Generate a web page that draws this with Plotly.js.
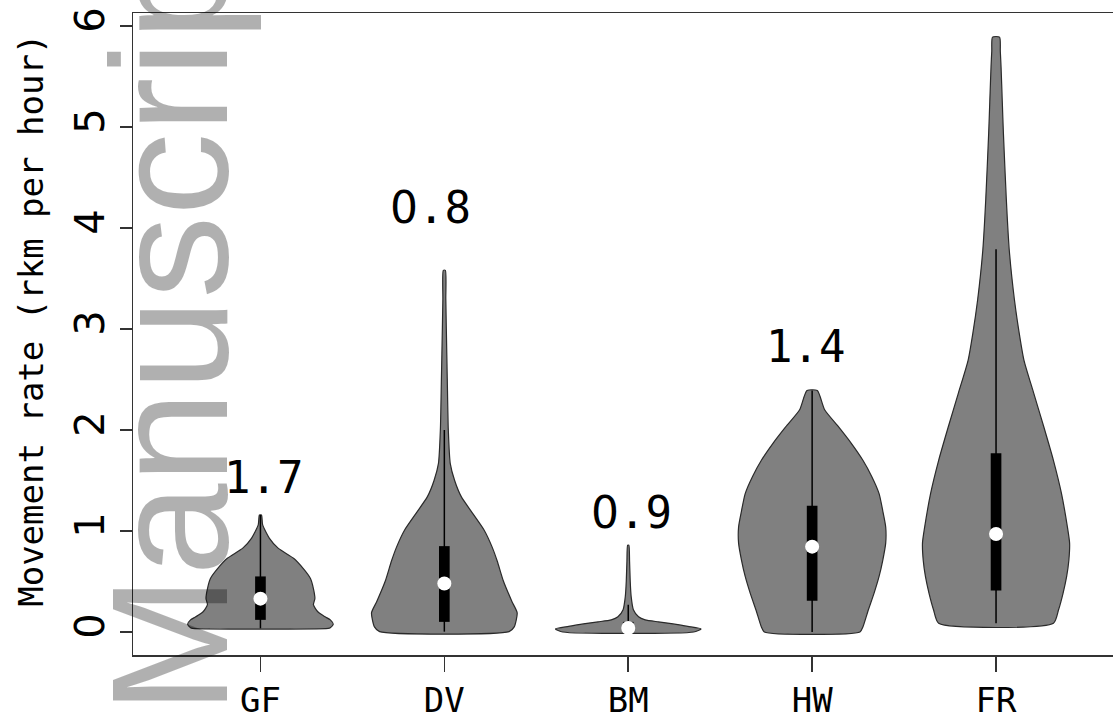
<!DOCTYPE html>
<html>
<head>
<meta charset="utf-8">
<script src="https://cdn.plot.ly/plotly-3.0.1.min.js"></script>
<style>html,body{margin:0;padding:0;background:#fff;}#chart{width:1113px;height:721px;}</style>
</head>
<body>
<div id="chart"></div>
<script>
// ---- data ----
const categories = ["GF", "DV", "BM", "HW", "FR"];

// density profiles: rate values (rkm per hour) and relative density (max = 1)
const gfRate = [0.036, 0.043, 0.076, 0.12, 0.15, 0.20, 0.27, 0.33, 0.43, 0.53, 0.63, 0.73, 0.83, 0.93, 1.06, 1.158];
const gfDens = [0.92, 0.95, 0.99, 0.95, 0.88, 0.78, 0.72, 0.74, 0.72, 0.68, 0.58, 0.45, 0.24, 0.12, 0.03, 0.014];

const dvRate = [0.003, 0.05, 0.19, 0.30, 0.51, 0.70, 0.84, 1.01, 1.18, 1.34, 1.50, 1.67, 2.0, 2.5, 3.0, 3.3, 3.58];
const dvDens = [0.88, 0.95, 0.99, 0.92, 0.80, 0.72, 0.65, 0.54, 0.38, 0.23, 0.14, 0.08, 0.054, 0.04, 0.027, 0.02, 0.014];

const bmRate = [0.0, 0.03, 0.055, 0.08, 0.10, 0.12, 0.15, 0.22, 0.35, 0.5, 0.7, 0.86];
const bmDens = [0.89, 0.99, 0.81, 0.61, 0.41, 0.23, 0.14, 0.07, 0.04, 0.027, 0.018, 0.008];

const hwRate = [0.0, 0.05, 0.21, 0.38, 0.55, 0.71, 0.88, 1.04, 1.20, 1.37, 1.54, 1.70, 1.87, 2.03, 2.20, 2.39];
const hwDens = [0.65, 0.69, 0.76, 0.84, 0.91, 0.96, 1.0, 1.0, 0.96, 0.91, 0.81, 0.69, 0.53, 0.36, 0.17, 0.07];

const frRate = [0.086, 0.22, 0.38, 0.55, 0.71, 0.88, 1.04, 1.37, 1.70, 2.03, 2.37, 2.69, 2.96, 3.29, 3.78, 4.28, 4.94, 5.25, 5.60, 5.75, 5.89];
const frDens = [0.78, 0.85, 0.91, 0.96, 0.99, 1.0, 0.97, 0.89, 0.78, 0.65, 0.51, 0.38, 0.315, 0.25, 0.18, 0.14, 0.10, 0.085, 0.068, 0.058, 0.048];

// box-plot summaries
const q1 = [0.12, 0.10, 0.01, 0.31, 0.41];
const q3 = [0.55, 0.85, 0.10, 1.25, 1.77];
const medians = [0.33, 0.48, 0.04, 0.845, 0.97];
const whiskerLo = [0.036, 0.003, 0.0, 0.0, 0.086];
const whiskerHi = [1.158, 2.0, 0.27, 2.39, 3.79];

// values printed above the violins
const labelText = ["1.7", "0.8", "0.9", "1.4"];
const labelCat = ["GF", "DV", "BM", "HW"];
const labelY = [1.53, 4.20, 1.18, 2.83];
const labelShift = [0.016, -0.076, 0.016, -0.038];

const yTicks = [0, 1, 2, 3, 4, 5, 6];

// ---- drawing ----
const profiles = [[gfRate, gfDens], [dvRate, dvDens], [bmRate, bmDens], [hwRate, hwDens], [frRate, frDens]];
const HALF = 0.4;     // max half-width of a violin in axis units
const BOXW = 0.029;   // half-width of the IQR box
const mono = "DejaVu Sans Mono, monospace";
// plain (undotted) zero glyph, as in the reference
const plainZero = t => t.replace(/0/g, '<span style="font-family:DejaVu Sans">0</span>');

const traces = [];
profiles.forEach(([r, d], i) => {
  const xs = [], ys = [];
  for (let k = 0; k < r.length; k++) { xs.push(i - HALF * d[k]); ys.push(r[k]); }
  for (let k = r.length - 1; k >= 0; k--) { xs.push(i + HALF * d[k]); ys.push(r[k]); }
  xs.push(xs[0]); ys.push(ys[0]);
  traces.push({x: xs, y: ys, type: "scatter", mode: "lines", fill: "toself",
    fillcolor: "#808080", line: {color: "#2a2a2a", width: 1.2, shape: "spline", smoothing: 0.6},
    hoverinfo: "skip", showlegend: false});
});
categories.forEach((c, i) => {
  traces.push({x: [i, i], y: [whiskerLo[i], whiskerHi[i]], type: "scatter", mode: "lines",
    line: {color: "#000", width: 1.5}, hoverinfo: "skip", showlegend: false});
  traces.push({x: [i - BOXW, i + BOXW, i + BOXW, i - BOXW, i - BOXW],
    y: [q1[i], q1[i], q3[i], q3[i], q1[i]], type: "scatter", mode: "lines", fill: "toself",
    fillcolor: "#000", line: {color: "#000", width: 0}, hoverinfo: "skip", showlegend: false});
});
traces.push({x: categories.map((c, i) => i), y: medians, type: "scatter", mode: "markers",
  marker: {color: "#fff", size: 14, line: {width: 0}}, hoverinfo: "skip", showlegend: false});

const annotations = labelText.map((t, k) => ({
  x: categories.indexOf(labelCat[k]) + labelShift[k], y: labelY[k], xref: "x", yref: "y",
  text: plainZero(t), showarrow: false, xanchor: "center", yanchor: "middle",
  font: {family: mono, size: 44, color: "#000"}
}));
annotations.push({
  xref: "paper", yref: "paper", x: -0.1048, y: 0.521, xanchor: "center", yanchor: "middle",
  text: "Movement rate (rkm per hour)", textangle: -90, showarrow: false,
  font: {family: mono, size: 34, color: "#000"}
});
annotations.push({
  xref: "paper", yref: "paper", x: 0.0378, y: 0.5405, xanchor: "center", yanchor: "middle",
  text: "Manuscript", textangle: -90, showarrow: false,
  font: {family: "Liberation Sans, Arial, sans-serif", size: 166, color: "rgba(0,0,0,0.31)"}
});

const layout = {
  width: 1113, height: 721,
  margin: {l: 133, r: 0, t: 13, b: 66, pad: 0},
  paper_bgcolor: "#fff", plot_bgcolor: "#fff",
  showlegend: false,
  xaxis: {
    range: [-0.693, 4.636], tickvals: categories.map((c, i) => i), ticktext: categories,
    ticks: "outside", ticklen: 15, tickwidth: 1.5, tickcolor: "#333",
    showline: true, linecolor: "#333", linewidth: 1.5, mirror: true,
    showgrid: false, zeroline: false, ticklabelstandoff: 0,
    tickfont: {family: mono, size: 34, color: "#000"}
  },
  yaxis: {
    range: [-0.228, 6.129], tickvals: yTicks, ticktext: yTicks.map(String),
    ticks: "outside", ticklen: 12, tickwidth: 1.5, tickcolor: "#333", tickangle: -90,
    showline: true, linecolor: "#333", linewidth: 1.5, mirror: false,
    showgrid: false, zeroline: false,
    tickfont: {family: "DejaVu Sans, sans-serif", size: 40, color: "#000"}
  },
  annotations: annotations
};

Plotly.newPlot("chart", traces, layout, {staticPlot: true, displayModeBar: false});
</script>
</body>
</html>
